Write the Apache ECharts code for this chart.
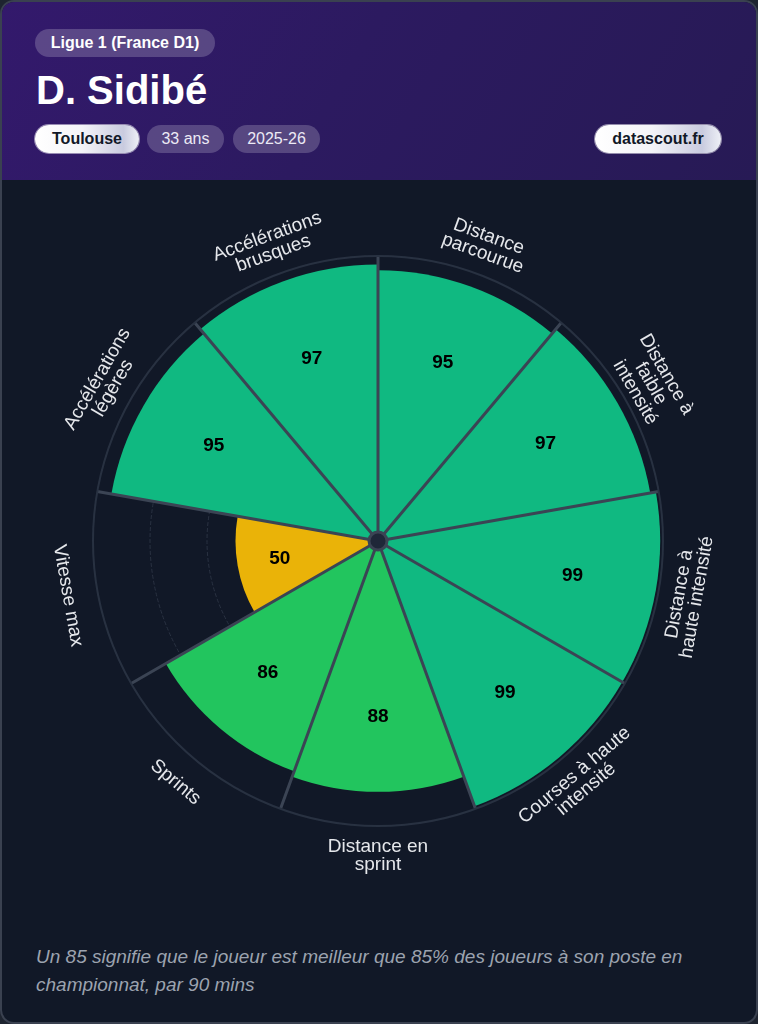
<!DOCTYPE html>
<html><head><meta charset="utf-8">
<script src="https://cdn.jsdelivr.net/npm/echarts@6/dist/echarts.min.js"></script>
<style>
html,body{margin:0;padding:0;width:758px;height:1024px;background:#1e2430;overflow:hidden;font-family:"Liberation Sans",Arial,sans-serif;}
#card{position:absolute;left:0;top:0;width:754px;height:1020px;border:2px solid #3a4150;border-radius:14px;background:#111827;}
#header{position:absolute;left:2px;top:2px;width:754px;height:178px;border-radius:12px 12px 0 0;background:linear-gradient(120deg,#33196c 0%,#2c1a60 45%,#271a55 100%);}
.chip{position:absolute;height:28px;line-height:28px;border-radius:14px;text-align:center;font-size:16px;white-space:nowrap;}
.tr{background:rgba(255,255,255,0.2);color:#eceaf5;}
.wh{background:linear-gradient(90deg,#ffffff 0%,#f4f4f8 45%,#c9cbdf 85%,#eef0f6 100%);color:#111827;font-weight:bold;box-shadow:0 0 0 1px rgba(255,255,255,0.5);}
#name{position:absolute;left:36px;top:66px;font-size:40px;font-weight:bold;color:#ffffff;line-height:48px;}
#foot{position:absolute;left:36px;top:943px;font-size:19px;line-height:28px;font-style:italic;color:#9ca3af;}
#chart{position:absolute;left:0;top:0;width:758px;height:1024px;}
</style></head>
<body>
<div id="card"></div>
<div id="header"></div>
<div class="chip tr" style="left:35px;top:29px;width:180px;font-weight:bold;color:#ffffff;">Ligue 1 (France D1)</div>
<div id="name">D. Sidibé</div>
<div class="chip wh" style="left:35px;top:125px;width:104px;">Toulouse</div>
<div class="chip tr" style="left:147px;top:125px;width:77px;">33 ans</div>
<div class="chip tr" style="left:233px;top:125px;width:87px;">2025-26</div>
<div class="chip wh" style="left:595px;top:125px;width:126px;">datascout.fr</div>
<div id="foot">Un 85 signifie que le joueur est meilleur que 85% des joueurs à son poste en<br>championnat, par 90 mins</div>
<div id="chart"></div>
<script>
const categories = ['Distance parcourue','Distance à faible intensité','Distance à haute intensité','Courses à haute intensité','Distance en sprint','Sprints','Vitesse max','Accélérations légères','Accélérations brusques'];
const tickLabels = ['Distance\nparcourue','Distance à\nfaible\nintensité','Distance à\nhaute intensité','Courses à haute\nintensité','Distance en\nsprint','Sprints','Vitesse max','Accélérations\nlégères','Accélérations\nbrusques'];
const values = [95, 97, 99, 99, 88, 86, 50, 95, 97];
const radiusMin = 0, radiusMax = 100, radiusStep = 20;

function colorFor(v){
  if (v >= 90) return '#10b981';
  if (v >= 70) return '#22c55e';
  return '#eab308';
}

function renderItem(params, api){
  const v = api.value(0), i = api.value(1);
  const c = api.coord([0, i]);
  const p = api.coord([110.5, i]);
  const q = api.coord([v * 0.7, i]);
  const th = Math.atan2(-(p[1] - c[1]), p[0] - c[0]);
  const rot = th > 0 ? th - Math.PI / 2 : th + Math.PI / 2;
  return {type:'group', children:[
    {type:'text', x:p[0], y:p[1], rotation:rot, style:{text:tickLabels[i], fill:'#e5e7eb', fontSize:19, fontFamily:'Liberation Sans, Arial, sans-serif', align:'center', verticalAlign:'middle', lineHeight:18}},
    {type:'text', x:q[0], y:q[1], style:{text:String(v), fill:'#000000', fontSize:19, fontWeight:'bold', fontFamily:'Liberation Sans, Arial, sans-serif', align:'center', verticalAlign:'middle'}}
  ]};
}

const chart = echarts.init(document.getElementById('chart'), null, {renderer:'canvas'});
chart.setOption({
  animation:false,
  polar:{center:[378, 541], radius:285},
  angleAxis:{type:'category', data:categories, startAngle:90, clockwise:true, z:5,
    axisLine:{show:true, lineStyle:{color:'#283141', width:2}},
    axisTick:{show:false}, axisLabel:{show:false},
    splitLine:{show:true, lineStyle:{color:'#3b4454', width:3}}},
  radiusAxis:{type:'value', min:radiusMin, max:radiusMax, interval:radiusStep,
    axisLine:{show:false}, axisTick:{show:false}, axisLabel:{show:false},
    splitLine:{show:true, lineStyle:{color:'#2a3242', type:'dashed', width:1}}},
  series:[
    {type:'bar', coordinateSystem:'polar', barCategoryGap:'0%', z:2,
     data: values.map(v => ({value:v, itemStyle:{color:colorFor(v)}}))},
    {type:'custom', coordinateSystem:'polar', z:10, renderItem:renderItem,
     data: values.map((v, i) => [v, i])}
  ],
  graphic:[{type:'circle', z:100, shape:{cx:378, cy:541, r:9}, style:{fill:'#1f2738', stroke:'#3b4454', lineWidth:3}}]
});
</script>
</body></html>
